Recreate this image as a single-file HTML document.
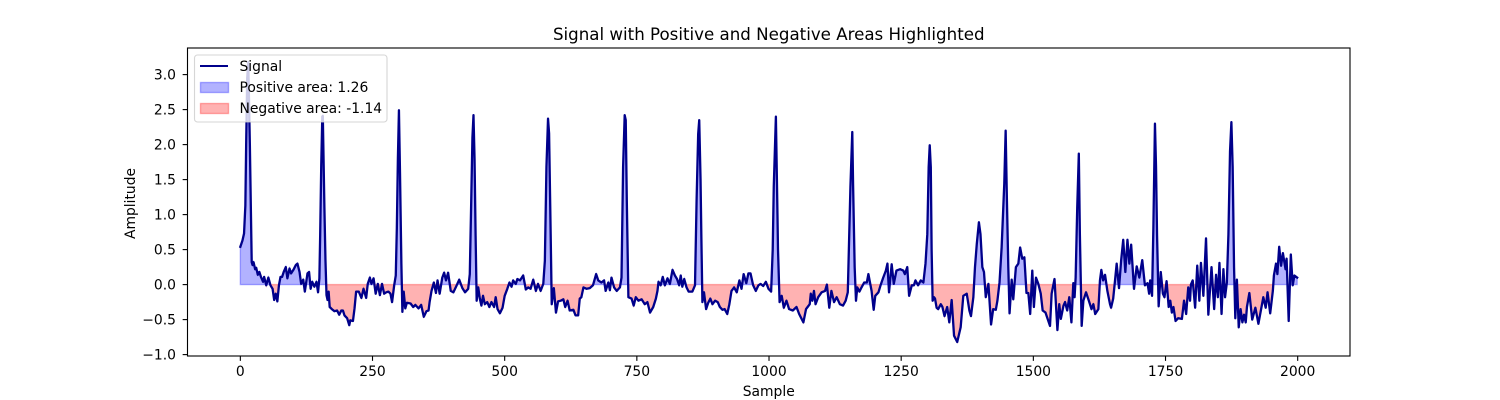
<!DOCTYPE html>
<html lang="en">
<head>
<meta charset="utf-8">
<title>Signal with Positive and Negative Areas Highlighted</title>
<style>
html,body{margin:0;padding:0;background:#fff;width:1500px;height:400px;overflow:hidden}
svg{display:block}
text{font-family:"DejaVu Sans","Liberation Sans",sans-serif;fill:#000}
</style>
</head>
<body>
<svg id="chart" xmlns="http://www.w3.org/2000/svg" width="1500" height="400" viewBox="0 0 1500 400">
  <rect x="0" y="0" width="1500" height="400" fill="#fff"/>
  <g id="fills"></g>
  <path id="signal" fill="none" stroke="#00008b" stroke-width="2.3" stroke-linejoin="round" stroke-linecap="square"/>
  <g id="ticks"></g>
  <rect x="187.5" y="48" width="1162.5" height="308" fill="none" stroke="#000" stroke-width="1.11"/>
  <text x="768.75" y="40" text-anchor="middle" font-size="16.67">Signal with Positive and Negative Areas Highlighted</text>
  <text x="768.75" y="396" text-anchor="middle" font-size="13.89">Sample</text>
  <text transform="translate(135,203.5) rotate(-90)" text-anchor="middle" font-size="13.89">Amplitude</text>
  <g>
    <rect x="194.5" y="55" width="192.5" height="67" rx="3" ry="3" fill="#fff" fill-opacity="0.8" stroke="#ccc" stroke-opacity="0.8" stroke-width="1.11"/>
    <line x1="200" y1="66" x2="228" y2="66" stroke="#00008b" stroke-width="2.08"/>
    <text x="239.5" y="71" font-size="13.89">Signal</text>
    <rect x="200.5" y="82.5" width="28" height="10" fill="#00f" fill-opacity="0.3" stroke="#00f" stroke-opacity="0.3" stroke-width="1.39"/>
    <text x="239.5" y="92" font-size="13.89">Positive area: 1.26</text>
    <rect x="200.5" y="103.5" width="28" height="10" fill="#f00" fill-opacity="0.3" stroke="#f00" stroke-opacity="0.3" stroke-width="1.39"/>
    <text x="239.5" y="113" font-size="13.89">Negative area: -1.14</text>
  </g>
</svg>
<script>
const xTickValues = [0, 250, 500, 750, 1000, 1250, 1500, 1750, 2000];
const yTickValues = [-1, -0.5, 0, 0.5, 1, 1.5, 2, 2.5, 3];
const yTickLabels = ["\u22121.0", "\u22120.5", "0.0", "0.5", "1.0", "1.5", "2.0", "2.5", "3.0"];
const samples = [0,4,7,9.5,11,13,15,18,20,21.5,23,25,28,30,33,36,39,43,45,49,53,57,61,64,67,70,73,76,79,82,86,89,93,96,101,105,108,112,115,119,122,127,130,133,136,140,144,147,149.5,151,153,155,156,159,161,163,165,167,169,173,178,183,187,191,194,197,202,206,208,213,216,219,224,229,233,238,241,245,248,252,256,260,264,268,272,276,280,284,287,291,294,296,298,300,302,304.6,306.5,309,312,315,322,327,331,337,342,347,352,356,358,361.6,366,370,373,377,382,385.5,389,393,398,403,408,414,420,425,431,434,437,439,441,443,445,447,450,453,456,459,462.5,467,471,475,480,483,486.5,491,496,500,505,509,513,516,521,524,529,535,540,544.5,549,554,559,563,568,573,576,579,582,584,587,589,593,597,601,606,611,614.5,619,623,630,634,639,642,645,649,655,661,667,673,677,683,688,691,696,699,702,707,712,718,721,724,727,729,731,734,740,744,748,753,759,765,770,775,781,786,789,791,795,799,803,808,812.5,817.5,822,826,830,833,836,839.6,844,848,855,860,863,866,868,870.5,872,874,877,881,885,889,893,898,903,907,912,916,921,925,929,934,939,944,948,952,957,961,965,970,975,980,984,989,994,999,1004,1007,1009,1013,1016,1017,1020,1024,1028,1033,1038,1045,1052,1057,1065,1070,1073,1077,1079,1082,1085,1088,1093,1099.5,1106,1109.5,1114,1118,1123,1128,1134,1140,1145,1149,1151,1154,1157.5,1159,1162,1164.5,1167,1171,1175,1180,1185,1188,1191,1194,1198,1201,1207,1211,1216,1221,1224,1227,1232,1236,1241,1248,1254,1257,1261.5,1265,1270,1274,1277,1282,1287,1292,1296,1299.4,1302,1304,1306,1307.6,1309.5,1312,1314,1317,1320,1325,1328,1332,1337,1341,1345.5,1350,1356,1362.5,1367.5,1374,1379,1382,1386.5,1389.6,1393,1397,1400,1403.5,1406.6,1410,1415,1420,1424,1429,1432,1436,1440,1445,1447.6,1450,1452.6,1455,1459,1462,1467,1471.6,1475,1479,1483,1487,1490.5,1494,1498,1501,1505,1509.4,1514,1517.6,1523,1531.5,1534.6,1540,1545.5,1549,1552,1557,1560,1564,1568,1572,1575.6,1578,1580,1583,1586,1588,1591.4,1594.6,1599.6,1605,1610,1613.5,1617,1623,1626,1628.6,1632,1635.6,1640,1645,1647,1651,1654.5,1657.6,1662,1666,1670,1674,1678,1681.6,1685,1690.4,1695.5,1700.5,1706,1711,1716,1719,1721,1724.5,1727,1730,1732,1734,1737,1741,1745,1748,1752,1756,1759,1762,1765,1769,1774,1781,1785,1789,1793,1796.4,1798,1801.4,1806,1810,1814,1817,1821.6,1826.6,1831,1837,1842,1845.6,1849,1852,1856,1859.5,1862.6,1866,1869,1872,1874.6,1877,1879.6,1882,1885,1888.5,1892,1895.4,1898.5,1901.7,1904,1908.6,1914,1920,1925.7,1935,1939.5,1943,1948,1953,1955,1959,1961.6,1965,1968.6,1972,1977,1979,1983,1987,1990.6,1993.8,1999];
const amplitude = [0.54,0.63,0.73,1.13,2.0,2.95,3.18,2.0,1.04,0.32,0.28,0.32,0.22,0.24,0.14,0.18,0.11,0.04,0.11,-0.01,0.1,-0.01,-0.06,-0.22,-0.13,-0.24,-0.01,0.11,0.11,0.18,0.25,0.09,0.23,0.16,0.22,0.28,0.3,0.18,0.01,0.07,-0.1,0.16,0.18,-0.06,0.04,-0.03,0.04,-0.11,0.09,0.7,1.7,2.4,2.41,1.1,0.35,-0.15,-0.22,-0.1,-0.32,-0.35,-0.38,-0.37,-0.43,-0.37,-0.37,-0.44,-0.48,-0.58,-0.51,-0.52,-0.34,-0.1,-0.1,-0.19,-0.06,-0.19,0.01,0.1,0.01,0.09,-0.13,0.01,-0.15,0.01,-0.13,-0.11,-0.1,-0.13,-0.25,-0.01,0.13,0.8,1.8,2.49,1.6,0.3,-0.39,-0.1,-0.34,-0.26,-0.27,-0.32,-0.29,-0.34,-0.29,-0.46,-0.38,-0.37,-0.25,-0.09,0.03,-0.12,0.06,-0.13,0.1,0.17,0.06,0.17,-0.09,-0.11,-0.03,0.07,-0.05,-0.11,-0.06,0.15,1.3,2.1,2.42,1.8,0.7,-0.23,-0.04,-0.2,-0.3,-0.16,-0.28,-0.25,-0.32,-0.25,-0.32,-0.18,-0.35,-0.41,-0.33,-0.16,-0.06,0.03,-0.03,0.06,0.01,0.08,0.06,0.13,-0.07,-0.04,-0.06,0.07,-0.09,0.01,-0.09,0.01,0.34,1.68,2.37,2.16,0.72,-0.28,-0.05,-0.4,-0.24,-0.23,-0.21,-0.32,-0.23,-0.37,-0.36,-0.44,-0.44,-0.2,-0.18,-0.04,-0.06,-0.05,-0.01,0.15,0.06,0.03,0.06,-0.09,0.03,-0.08,0.1,-0.04,-0.09,-0.04,0.1,1.68,2.42,2.35,1.2,-0.18,-0.2,-0.3,-0.18,-0.23,-0.21,-0.28,-0.25,-0.4,-0.32,-0.2,-0.09,0.04,-0.01,0.11,-0.01,0.09,0.01,0.21,0.13,0.08,-0.01,0.13,-0.03,0.08,-0.04,-0.1,-0.1,-0.01,1.2,2.15,2.35,1.5,0.7,-0.25,-0.11,-0.35,-0.26,-0.2,-0.28,-0.23,-0.25,-0.32,-0.36,-0.35,-0.42,-0.28,-0.09,-0.04,-0.11,0.06,-0.06,0.15,0.02,0.16,0.16,-0.01,-0.09,-0.01,0.01,-0.02,0.04,-0.06,-0.1,0.5,1.4,2.4,1.0,0.5,-0.25,-0.16,-0.33,-0.23,-0.35,-0.37,-0.32,-0.42,-0.54,-0.35,-0.32,-0.28,-0.13,-0.23,-0.09,-0.28,-0.18,-0.11,-0.09,0.0,-0.33,-0.09,-0.25,-0.18,-0.28,-0.3,-0.23,-0.11,0.49,1.4,2.18,1.44,0.25,-0.23,-0.04,-0.1,-0.04,0.03,0.03,0.15,0.03,-0.09,-0.36,-0.16,-0.11,-0.01,0.1,0.2,0.3,-0.11,0.29,0.01,0.2,0.22,0.2,0.15,0.25,-0.16,-0.01,-0.01,0.06,-0.01,0.06,0.03,0.3,0.72,1.68,1.99,1.68,0.49,-0.23,-0.18,-0.2,-0.33,-0.35,-0.28,-0.32,-0.45,-0.32,-0.54,-0.22,-0.73,-0.82,-0.61,-0.16,-0.13,-0.37,-0.45,-0.18,0.25,0.58,0.89,0.72,0.25,0.18,-0.18,0.01,-0.57,-0.35,-0.36,-0.23,0.03,0.53,1.44,2.2,1.2,0.25,-0.41,0.07,-0.21,0.25,0.3,0.53,0.37,0.39,-0.12,-0.12,-0.42,0.2,-0.32,0.1,0.01,-0.13,-0.37,-0.4,-0.59,-0.13,0.08,-0.65,-0.28,-0.49,-0.3,-0.25,-0.37,-0.18,-0.54,0.02,-0.18,0.1,1.1,1.87,0.72,-0.59,-0.23,-0.11,-0.23,-0.35,-0.28,-0.42,-0.35,0.06,0.21,0.06,0.14,-0.09,-0.28,-0.33,-0.2,0.06,0.3,-0.05,0.34,0.64,0.18,0.64,0.3,0.57,-0.06,0.26,0.1,0.35,-0.01,0.02,-0.13,0.06,-0.16,0.8,2.3,1.7,0.7,-0.31,0.18,-0.13,-0.18,0.05,-0.32,-0.23,-0.4,-0.32,-0.52,-0.48,-0.49,-0.23,-0.42,-0.04,-0.23,0.0,0.06,-0.33,0.27,-0.23,0.31,-0.16,0.66,-0.43,0.25,-0.35,0.14,-0.18,0.31,-0.42,0.22,-0.18,0.03,0.72,1.9,2.32,1.68,0.25,-0.48,0.07,-0.61,-0.35,-0.54,-0.43,-0.54,-0.32,-0.12,-0.5,-0.33,-0.56,-0.18,-0.33,-0.11,-0.41,-0.09,0.13,0.3,0.15,0.54,0.27,0.45,0.22,0.37,-0.52,0.43,-0.01,0.13,0.1];

const SVG_NS = "http://www.w3.org/2000/svg";
const plotLeft = 187.5, plotRight = 1350, plotTop = 48, plotBottom = 356;
const xMin = -99.95, xMax = 2098.95, yMin = -1.02, yMax = 3.38;
function xScale(v) { return plotLeft + (v - xMin) / (xMax - xMin) * (plotRight - plotLeft); }
function yScale(v) { return plotBottom - (v - yMin) / (yMax - yMin) * (plotBottom - plotTop); }

const count = Math.min(samples.length, amplitude.length);
let lineD = "";
for (let i = 0; i < count; i++) {
  lineD += (i ? "L" : "M") + xScale(samples[i]).toFixed(2) + " " + yScale(amplitude[i]).toFixed(2);
}
document.getElementById("signal").setAttribute("d", lineD);

function addArea(run, positive) {
  if (run.length < 2) return;
  const base = yScale(0).toFixed(2);
  const pts = run.map(p => xScale(p[0]).toFixed(2) + "," + yScale(p[1]).toFixed(2));
  pts.push(xScale(run[run.length - 1][0]).toFixed(2) + "," + base);
  pts.push(xScale(run[0][0]).toFixed(2) + "," + base);
  const poly = document.createElementNS(SVG_NS, "polygon");
  poly.setAttribute("points", pts.join(" "));
  poly.setAttribute("fill", positive ? "#00f" : "#f00");
  poly.setAttribute("fill-opacity", "0.3");
  poly.setAttribute("stroke", positive ? "#00f" : "#f00");
  poly.setAttribute("stroke-opacity", "0.3");
  poly.setAttribute("stroke-width", "1.39");
  
  
  document.getElementById("fills").appendChild(poly);
}
let run = [];
let sign = null;
for (let i = 0; i < count; i++) {
  const s = amplitude[i] >= 0;
  if (sign !== null && s !== sign) {
    const a0 = amplitude[i - 1], a1 = amplitude[i];
    const cross = samples[i - 1] + (samples[i] - samples[i - 1]) * a0 / (a0 - a1);
    run.push([cross, 0]);
    addArea(run, sign);
    run = [[cross, 0]];
  }
  run.push([samples[i], amplitude[i]]);
  sign = s;
}
addArea(run, sign);

const ticks = document.getElementById("ticks");
xTickValues.forEach(function (v) {
  const x = xScale(v);
  const t = document.createElementNS(SVG_NS, "line");
  t.setAttribute("x1", x); t.setAttribute("x2", x);
  t.setAttribute("y1", plotBottom); t.setAttribute("y2", plotBottom + 4.86);
  t.setAttribute("stroke", "#000"); t.setAttribute("stroke-width", "1.11");
  
  
  ticks.appendChild(t);
  const l = document.createElementNS(SVG_NS, "text");
  l.setAttribute("x", x); l.setAttribute("y", 376);
  l.setAttribute("text-anchor", "middle"); l.setAttribute("font-size", "13.89");
  
  
  l.textContent = String(v);
  ticks.appendChild(l);
});
yTickValues.forEach(function (v, i) {
  const y = yScale(v);
  const t = document.createElementNS(SVG_NS, "line");
  t.setAttribute("x1", plotLeft - 4.86); t.setAttribute("x2", plotLeft);
  t.setAttribute("y1", y); t.setAttribute("y2", y);
  t.setAttribute("stroke", "#000"); t.setAttribute("stroke-width", "1.11");
  
  
  ticks.appendChild(t);
  const l = document.createElementNS(SVG_NS, "text");
  l.setAttribute("x", plotLeft - 11.5); l.setAttribute("y", y + 5);
  l.setAttribute("text-anchor", "end"); l.setAttribute("font-size", "13.89");
  
  
  l.textContent = yTickLabels[i];
  ticks.appendChild(l);
});
</script>
</body>
</html>
